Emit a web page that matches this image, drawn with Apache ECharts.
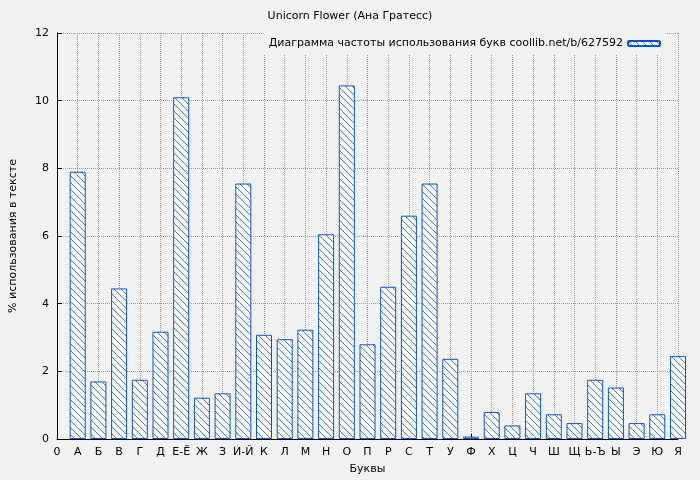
<!DOCTYPE html><html><head><meta charset="utf-8"><script src="https://cdn.jsdelivr.net/npm/echarts@6/dist/echarts.min.js"></script></head><body style="margin:0;background:#f2f2f2"><div id="c" style="width:700px;height:480px"></div><script>
const categories=["0","А","Б","В","Г","Д","Е-Ё","Ж","З","И-Й","К","Л","М","Н","О","П","Р","С","Т","У","Ф","Х","Ц","Ч","Ш","Щ","Ь-Ъ","Ы","Э","Ю","Я"];
const values=[null,7.9,1.7,4.45,1.75,3.17,10.1,1.22,1.35,7.55,3.08,2.95,3.23,6.05,10.45,2.8,4.5,6.6,7.55,2.37,0.07,0.8,0.4,1.35,0.73,0.47,1.75,1.52,0.47,0.73,2.45];
const yTicks=[0,2,4,6,8,10,12];
const S=7;
const cv=document.createElement('canvas');cv.width=S;cv.height=S;const g=cv.getContext('2d');
g.fillStyle='#fff';g.fillRect(0,0,S,S);g.strokeStyle='#0a52c8';g.lineWidth=0.8;
g.beginPath();g.moveTo(-1,-1);g.lineTo(S+1,S+1);g.moveTo(-1,S-1);g.lineTo(1,S+1);g.moveTo(S-1,-1);g.lineTo(S+1,1);g.stroke();
const ch=echarts.init(document.getElementById('c'));
const ax={color:'#000',fontSize:11,fontFamily:'DejaVu Sans'};
ch.setOption({backgroundColor:'#f2f2f2',animation:false,
title:{text:'Unicorn Flower (Ана Гратесс)',left:'center',top:6,textStyle:{fontSize:11,fontWeight:'normal',color:'#000',fontFamily:'DejaVu Sans'}},
legend:{right:34,top:33,align:'right',itemWidth:32,itemHeight:5,backgroundColor:'#f2f2f2',textStyle:ax,data:['Диаграмма частоты использования букв coollib.net/b/627592']},
grid:{left:49,right:22,top:33,bottom:40},
xAxis:{type:'category',data:categories,boundaryGap:false,name:'Буквы',nameLocation:'middle',nameGap:25,nameTextStyle:ax,
axisLine:{lineStyle:{color:'#000'}},axisTick:{inside:true,lineStyle:{color:'#000'}},axisLabel:Object.assign({interval:0},ax),
splitLine:{show:true,lineStyle:{type:'dotted',color:'#999'}}},
yAxis:{type:'value',min:0,max:12,interval:2,name:'% использования в тексте',nameLocation:'middle',nameGap:38,nameTextStyle:ax,
axisLine:{show:true,lineStyle:{color:'#000'}},axisTick:{show:true,inside:true,lineStyle:{color:'#000'}},axisLabel:ax,
splitLine:{lineStyle:{type:'dotted',color:'#999'}}},
series:[{type:'bar',name:'Диаграмма частоты использования букв coollib.net/b/627592',data:values,barWidth:16,clip:true,
itemStyle:{color:{image:cv,repeat:'repeat'},borderColor:'#0a52c8',borderWidth:1}}]});
</script></body></html>
